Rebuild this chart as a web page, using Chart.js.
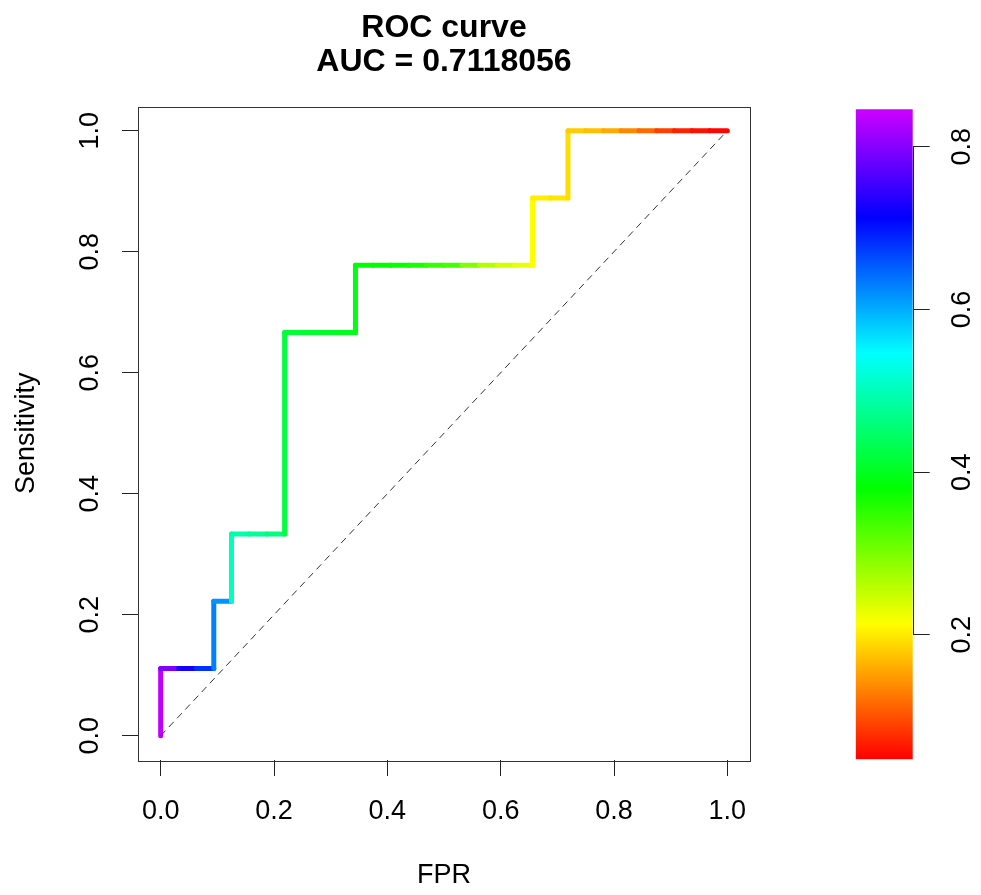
<!DOCTYPE html>
<html>
<head>
<meta charset="utf-8">
<title>ROC curve</title>
<script src="https://cdn.jsdelivr.net/npm/chart.js@4.4.1/dist/chart.umd.min.js"></script>
<style>
  html, body { margin: 0; padding: 0; background: #fff; }
  #wrap { position: relative; width: 981px; height: 895px; }
  #wrap canvas { position: absolute; left: 0; top: 0; }
</style>
</head>
<body>
<div id="wrap">
  <canvas id="rocChart" width="981" height="895"></canvas>
  <canvas id="cutoffBar" width="981" height="895"></canvas>
</div>
<script>
// ROC points: false positive rate, sensitivity, and the cutoff reached at each point
const fpr = [0, 0, 0.03125, 0.0625, 0.09375, 0.09375, 0.125, 0.125, 0.15625, 0.1875,
             0.21875, 0.21875, 0.25, 0.28125, 0.3125, 0.34375, 0.34375, 0.375, 0.40625, 0.4375,
             0.46875, 0.5, 0.53125, 0.5625, 0.59375, 0.625, 0.65625, 0.65625, 0.6875, 0.71875,
             0.71875, 0.75, 0.78125, 0.8125, 0.84375, 0.875, 0.90625, 0.9375, 0.96875, 1.0];
const tpr = [0, 0.1111, 0.1111, 0.1111, 0.1111, 0.2222, 0.2222, 0.3333, 0.3333, 0.3333,
             0.3333, 0.6667, 0.6667, 0.6667, 0.6667, 0.6667, 0.7778, 0.7778, 0.7778, 0.7778,
             0.7778, 0.7778, 0.7778, 0.7778, 0.7778, 0.7778, 0.7778, 0.8889, 0.8889, 0.8889,
             1.0, 1.0, 1.0, 1.0, 1.0, 1.0, 1.0, 1.0, 1.0, 1.0];
const cutoffs = [0.846, 0.838, 0.796, 0.727, 0.680, 0.630, 0.616, 0.505, 0.491, 0.477,
                 0.463, 0.421, 0.416, 0.410, 0.405, 0.399, 0.391, 0.380, 0.379, 0.374,
                 0.366, 0.347, 0.336, 0.297, 0.263, 0.241, 0.227, 0.213, 0.202, 0.197,
                 0.191, 0.180, 0.172, 0.158, 0.136, 0.116, 0.089, 0.069, 0.058, 0.050];
const aucValue = '0.7118056';

const axisTicks = [0, 0.2, 0.4, 0.6, 0.8, 1.0];
const cutoffTicks = [0.2, 0.4, 0.6, 0.8];
const cutoffRange = [0.047, 0.846];

const FONT = "'Liberation Sans', Arial, Helvetica, sans-serif";
const HUE_END = 288; // rainbow runs red -> purple

Chart.defaults.font.family = FONT;
Chart.defaults.color = '#000';

function cutoffColor(v) {
    const t = (v - cutoffRange[0]) / (cutoffRange[1] - cutoffRange[0]);
    const hue = Math.max(0, Math.min(1, t)) * HUE_END;
    return `hsl(${hue.toFixed(1)}, 100%, 50%)`;
}

function fixedTicks(values) {
    return scale => { scale.ticks = values.map(v => ({ value: v })); };
}

// plot frame around the chart area
const frame = {
    id: 'frame',
    afterDraw(chart) {
        const { ctx, chartArea: a } = chart;
        ctx.save();
        ctx.strokeStyle = '#333';
        ctx.lineWidth = 1;
        ctx.strokeRect(Math.round(a.left) + 0.5, Math.round(a.top) + 0.5,
                       Math.round(a.right - a.left), Math.round(a.bottom - a.top));
        ctx.restore();
    }
};

// axis line of the colour key, spanning first to last tick only
const keyAxisLine = {
    id: 'keyAxisLine',
    afterDraw(chart) {
        const { ctx, chartArea: a, scales } = chart;
        const x = Math.round(a.right) + 0.5;
        ctx.save();
        ctx.strokeStyle = '#222';
        ctx.lineWidth = 1;
        ctx.beginPath();
        ctx.moveTo(x, scales.y.getPixelForValue(cutoffTicks[0]));
        ctx.lineTo(x, scales.y.getPixelForValue(cutoffTicks[cutoffTicks.length - 1]));
        ctx.stroke();
        ctx.restore();
    }
};

function keyGradient(chart) {
    const area = chart.chartArea;
    if (!area) return cutoffColor(cutoffRange[0]);
    const y = chart.scales.y;
    const y0 = y.getPixelForValue(cutoffRange[0]);
    const y1 = y.getPixelForValue(cutoffRange[1]);
    const g = chart.ctx.createLinearGradient(0, y0, 0, y1);
    const steps = 48;
    for (let i = 0; i <= steps; i++) {
        const v = cutoffRange[0] + (cutoffRange[1] - cutoffRange[0]) * i / steps;
        g.addColorStop(i / steps, cutoffColor(v));
    }
    return g;
}

const tickFont = { size: 27 };

new Chart(document.getElementById('rocChart'), {
    type: 'line',
    data: {
        datasets: [
            {
                label: 'chance',
                data: [{ x: 0, y: 0 }, { x: 1, y: 1 }],
                borderColor: '#333',
                borderWidth: 1,
                borderDash: [7, 5],
                pointRadius: 0
            },
            {
                label: 'ROC',
                data: fpr.map((x, i) => ({ x: x, y: tpr[i] })),
                borderWidth: 5,
                borderCapStyle: 'round',
                borderJoinStyle: 'round',
                pointRadius: 0,
                segment: {
                    borderColor: ctx => cutoffColor(cutoffs[ctx.p1DataIndex])
                }
            }
        ]
    },
    options: {
        responsive: false,
        animation: false,
        events: [],
        layout: { padding: { top: 0, left: 0, right: 231, bottom: 0 } },
        plugins: {
            legend: { display: false },
            tooltip: { enabled: false },
            title: {
                display: true,
                fullSize: false,
                text: ['ROC curve', `AUC = ${aucValue}`],
                color: '#000',
                font: { size: 32, weight: 'bold', lineHeight: 1.0625 },
                padding: { top: 11.5, bottom: 27 }
            }
        },
        scales: {
            x: {
                type: 'linear',
                min: -0.04,
                max: 1.04,
                afterBuildTicks: fixedTicks(axisTicks),
                afterFit: scale => { scale.height = 135; },
                grid: { drawOnChartArea: false, tickLength: 16, color: '#222' },
                border: { display: false },
                ticks: {
                    font: tickFont,
                    padding: 19,
                    autoSkip: false,
                    maxRotation: 0,
                    callback: v => v.toFixed(1)
                },
                title: {
                    display: true,
                    text: 'FPR',
                    font: tickFont,
                    padding: { top: 0, bottom: 3 }
                }
            },
            y: {
                type: 'linear',
                min: -0.04,
                max: 1.04,
                afterBuildTicks: fixedTicks(axisTicks),
                afterFit: scale => { scale.width = 138; },
                grid: { drawOnChartArea: false, tickLength: 16, color: '#222' },
                border: { display: false },
                ticks: {
                    font: tickFont,
                    padding: 12.5,
                    autoSkip: false,
                    minRotation: 90,
                    maxRotation: 90,
                    crossAlign: 'center',
                    callback: v => v.toFixed(1)
                },
                title: {
                    display: true,
                    text: 'Sensitivity',
                    font: tickFont,
                    padding: { top: 10, bottom: 0 }
                }
            }
        }
    },
    plugins: [frame]
});

// colour key for the cutoff values
new Chart(document.getElementById('cutoffBar'), {
    type: 'bar',
    data: {
        labels: ['cutoff'],
        datasets: [{
            data: [cutoffRange],
            backgroundColor: ctx => keyGradient(ctx.chart),
            borderWidth: 0,
            barPercentage: 1,
            categoryPercentage: 1
        }]
    },
    options: {
        responsive: false,
        animation: false,
        events: [],
        layout: { padding: { left: 855.7, top: 109.3, bottom: 135.7, right: 0 } },
        plugins: {
            legend: { display: false },
            tooltip: { enabled: false }
        },
        scales: {
            x: { display: false },
            y: {
                position: 'right',
                min: cutoffRange[0],
                max: cutoffRange[1],
                afterBuildTicks: fixedTicks(cutoffTicks),
                afterFit: scale => { scale.width = 68.3; },
                grid: { drawOnChartArea: false, tickLength: 17, color: '#222' },
                border: { display: false },
                ticks: {
                    font: tickFont,
                    padding: 14,
                    autoSkip: false,
                    minRotation: 90,
                    maxRotation: 90,
                    crossAlign: 'center',
                    callback: v => v.toFixed(1)
                }
            }
        }
    },
    plugins: [keyAxisLine]
});
</script>
</body>
</html>
